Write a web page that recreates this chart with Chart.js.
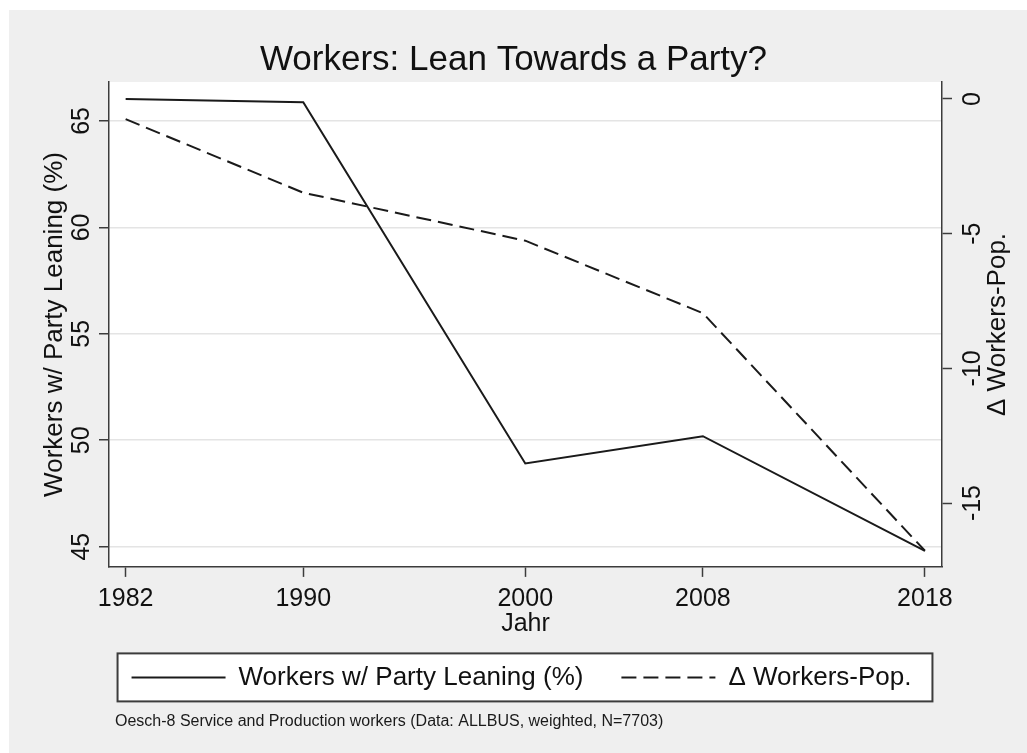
<!DOCTYPE html>
<html>
<head>
<meta charset="utf-8">
<title>Workers: Lean Towards a Party?</title>
<script src="https://cdn.jsdelivr.net/npm/chart.js@4.4.1/dist/chart.umd.min.js"></script>
<style>
  html, body { margin: 0; padding: 0; background: #fff; }
  #wrap { width: 1027px; height: 753px; }
</style>
</head>
<body>
<div id="wrap"><canvas id="chart" width="1027" height="753"></canvas></div>
<script>
const years = [1982, 1990, 2000, 2008, 2018];
const workersLeaning = [66.03, 65.88, 48.91, 50.19, 44.80];
const deltaWorkersPop = [-0.75, -3.48, -5.26, -7.95, -16.77];

const yearTicks = [1982, 1990, 2000, 2008, 2018];
const leftTicks = [45, 50, 55, 60, 65];
const rightTicks = [-15, -10, -5, 0];

const chartTitle = "Workers: Lean Towards a Party?";
const leftTitle = "Workers w/ Party Leaning (%)";
const rightTitle = "\u0394 Workers-Pop.";
const note = "Oesch-8 Service and Production workers (Data: ALLBUS, weighted, N=7703)";

const FONT = "'Liberation Sans', Arial, sans-serif";
const INK = "#111";
const AXIS = "#3c3c3c";

function toPoints(ys) {
    return years.map((x, i) => ({ x: x, y: ys[i] }));
}

function setTicks(values) {
    return scale => { scale.ticks = values.map(v => ({ value: v })); };
}

// point-style legend items lose the dataset dash, so put it back
function legendLabels(chart) {
    const items = Chart.defaults.plugins.legend.labels.generateLabels(chart);
    items.forEach((item, i) => {
        const ds = chart.data.datasets[i];
        item.lineDash = ds.borderDash || [];
        item.lineWidth = ds.borderWidth;
        item.strokeStyle = ds.borderColor;
    });
    return items;
}

const backdrop = {
    id: "backdrop",
    afterLayout(chart) {
        // Stata puts the legend and note a little right of centre
        chart.legend.left += 16;
        const noteBox = chart.boxes.find(b => b.options && b.options.text === note);
        if (noteBox) noteBox.left += 6;
    },
    beforeDraw(chart) {
        const ctx = chart.ctx;
        const a = chart.chartArea;
        ctx.save();
        ctx.fillStyle = "#fff";
        ctx.fillRect(0, 0, chart.width, chart.height);
        ctx.fillStyle = "#efefef";
        ctx.fillRect(9, 10, chart.width - 9, chart.height - 10);
        ctx.fillStyle = "#fff";
        ctx.fillRect(a.left, a.top, a.right - a.left, a.bottom - a.top);

        // white legend box with dark frame
        const boxes = chart.legend.legendHitBoxes;
        if (boxes && boxes.length) {
            const first = boxes[0];
            const last = boxes[boxes.length - 1];
            const cy = first.top + first.height / 2;
            const x0 = first.left - 14;
            const x1 = last.left + last.width + 21;
            ctx.fillStyle = "#fff";
            ctx.fillRect(x0, cy - 24, x1 - x0, 48);
            ctx.strokeStyle = AXIS;
            ctx.lineWidth = 2;
            ctx.strokeRect(x0, cy - 24, x1 - x0, 48);
        }
        ctx.restore();
    },
    afterDraw(chart) {
        // right axis title reads bottom-to-top, like the left one
        const ctx = chart.ctx;
        const a = chart.chartArea;
        ctx.save();
        ctx.translate(998, (a.top + a.bottom) / 2);
        ctx.rotate(-Math.PI / 2);
        ctx.font = "26px " + FONT;
        ctx.fillStyle = INK;
        ctx.textAlign = "center";
        ctx.textBaseline = "middle";
        ctx.fillText(rightTitle, 0, 0);
        ctx.restore();
    }
};

new Chart(document.getElementById("chart"), {
    type: "line",
    data: {
        datasets: [
            {
                label: leftTitle,
                data: toPoints(workersLeaning),
                yAxisID: "y",
                borderColor: "#1a1a1a",
                borderWidth: 2,
                pointRadius: 0,
                tension: 0
            },
            {
                label: rightTitle,
                data: toPoints(deltaWorkersPop),
                yAxisID: "y1",
                borderColor: "#1a1a1a",
                borderWidth: 2,
                borderDash: [15, 7],
                pointRadius: 0,
                tension: 0
            }
        ]
    },
    options: {
        responsive: false,
        animation: false,
        layout: { padding: 0 },
        scales: {
            x: {
                type: "linear",
                position: "bottom",
                min: 1981.25,
                max: 2018.77,
                afterBuildTicks: setTicks(yearTicks),
                afterFit: s => { s.height = 59.5; },
                grid: { drawOnChartArea: false, tickLength: 10, tickColor: AXIS, tickWidth: 1.5 },
                border: { color: AXIS, width: 1.5 },
                ticks: {
                    font: { family: FONT, size: 25 },
                    color: INK,
                    padding: 7,
                    maxRotation: 0,
                    callback: v => String(v)
                },
                // negative bottom padding pulls "Jahr" down into the legend's top band
                title: {
                    display: true,
                    text: "Jahr",
                    font: { family: FONT, size: 25 },
                    color: INK,
                    padding: { top: 0, bottom: -13 }
                }
            },
            y: {
                type: "linear",
                position: "left",
                min: 44.05,
                max: 66.83,
                afterBuildTicks: setTicks(leftTicks),
                afterFit: s => { s.width = 109; },
                grid: { color: "#e4e4e4", lineWidth: 1.5, tickLength: 10, tickColor: AXIS, tickWidth: 1.5 },
                border: { color: AXIS, width: 1.5 },
                ticks: {
                    font: { family: FONT, size: 25 },
                    color: INK,
                    padding: 3,
                    minRotation: 90,
                    maxRotation: 90,
                    crossAlign: "center"
                },
                title: {
                    display: true,
                    text: leftTitle,
                    font: { family: FONT, size: 26 },
                    color: INK,
                    padding: { top: 39, bottom: 0 }
                }
            },
            y1: {
                type: "linear",
                position: "right",
                min: -17.37,
                max: 0.63,
                afterBuildTicks: setTicks(rightTicks),
                afterFit: s => { s.width = 85; },
                grid: { drawOnChartArea: false, tickLength: 10, tickColor: AXIS, tickWidth: 1.5 },
                border: { color: AXIS, width: 1.5 },
                ticks: {
                    font: { family: FONT, size: 25 },
                    color: INK,
                    padding: 3,
                    minRotation: 90,
                    maxRotation: 90,
                    crossAlign: "center"
                }
            }
        },
        plugins: {
            title: {
                display: true,
                text: chartTitle,
                font: { family: FONT, size: 35, weight: "normal" },
                color: INK,
                padding: { top: 39, bottom: 1 }
            },
            subtitle: {
                display: true,
                position: "bottom",
                align: "start",
                fullSize: false,
                text: note,
                font: { family: FONT, size: 16 },
                color: "#1a1a1a",
                padding: { top: 12, bottom: 21.4 }
            },
            legend: {
                position: "bottom",
                labels: {
                    font: { family: FONT, size: 26 },
                    color: INK,
                    usePointStyle: true,
                    pointStyle: "line",
                    pointStyleWidth: 94,
                    padding: 38,
                    generateLabels: legendLabels
                }
            },
            tooltip: { enabled: false }
        }
    },
    plugins: [backdrop]
});
</script>
</body>
</html>
